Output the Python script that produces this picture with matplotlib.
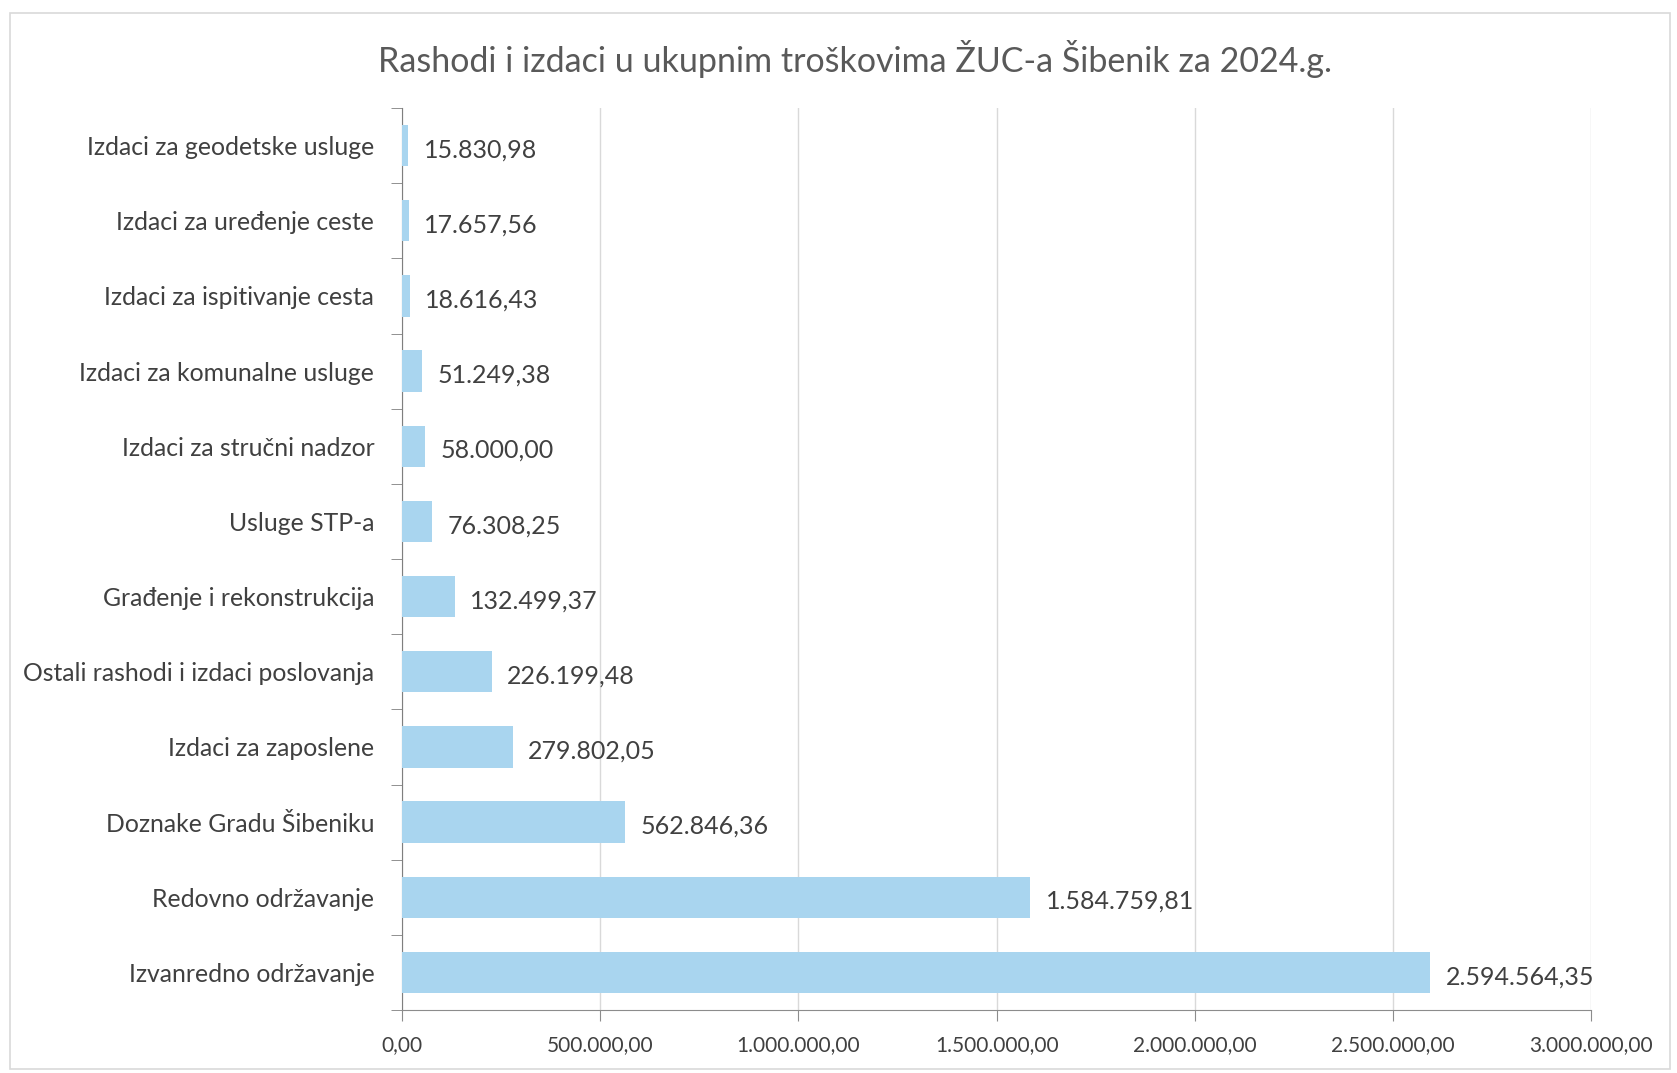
import matplotlib
matplotlib.use("Agg")
import matplotlib.pyplot as plt
from matplotlib.patches import Rectangle
from matplotlib.ticker import FuncFormatter

# bottom to top, as in the chart
categories = [
    "Izvanredno održavanje",
    "Redovno održavanje",
    "Doznake Gradu Šibeniku",
    "Izdaci za zaposlene",
    "Ostali rashodi i izdaci poslovanja",
    "Građenje i rekonstrukcija",
    "Usluge STP-a",
    "Izdaci za stručni nadzor",
    "Izdaci za komunalne usluge",
    "Izdaci za ispitivanje cesta",
    "Izdaci za uređenje ceste",
    "Izdaci za geodetske usluge",
]
values = [
    2594564.35,
    1584759.81,
    562846.36,
    279802.05,
    226199.48,
    132499.37,
    76308.25,
    58000.00,
    51249.38,
    18616.43,
    17657.56,
    15830.98,
]
x_ticks = [0, 500000, 1000000, 1500000, 2000000, 2500000, 3000000]

TITLE = "Rashodi i izdaci u ukupnim troškovima ŽUC-a Šibenik za 2024.g."
BAR_COLOR = "#a9d5ef"
TEXT_COLOR = "#404040"

plt.rcParams["font.family"] = ["Lato", "DejaVu Sans"]


def hr_format(v, pos=None):
    # Croatian number format: 1.234.567,89
    s = f"{v:,.2f}"
    return s.replace(",", "X").replace(".", ",").replace("X", ".")


fig = plt.figure(figsize=(16.77, 10.73), dpi=100)
ax = fig.add_axes([0.2398, 0.0587, 0.709, 0.8406])

ypos = list(range(len(categories)))
ax.barh(ypos, values, height=0.55, color=BAR_COLOR, zorder=3)

for y, v in zip(ypos, values):
    ax.annotate(hr_format(v), xy=(v, y), xytext=(11, -3), textcoords="offset points",
                ha="left", va="center", fontsize=18, color=TEXT_COLOR)

ax.set_xlim(0, 3000000)
ax.set_ylim(-0.5, len(categories) - 0.5)
ax.set_xticks(x_ticks)
ax.xaxis.set_major_formatter(FuncFormatter(hr_format))
ax.set_yticks(ypos)
ax.set_yticklabels(categories)
ax.set_yticks([i + 0.5 for i in range(-1, len(categories))], minor=True)

ax.grid(axis="x", color="#d9d9d9", linewidth=1, zorder=0)
for side in ["top", "right"]:
    ax.spines[side].set_visible(False)
ax.spines["left"].set_color("#7f7f7f")
ax.spines["bottom"].set_color("#8c8c8c")

ax.tick_params(axis="y", which="major", length=0, pad=20, labelsize=17.8, labelcolor=TEXT_COLOR)
ax.tick_params(axis="y", which="minor", length=8, color="#7f7f7f", direction="out")
ax.tick_params(axis="x", length=8, color="#8c8c8c", pad=10, labelsize=15, labelcolor=TEXT_COLOR)

fig.text(0.51, 0.945, TITLE, ha="center", va="center", fontsize=24.5, color="#595959")

# light chart-area border
fig.patches.append(Rectangle((0.006, 0.004), 0.99, 0.984, transform=fig.transFigure,
                             fill=False, edgecolor="#d9d9d9", linewidth=1.2))

fig.savefig("out.png", dpi=100)
